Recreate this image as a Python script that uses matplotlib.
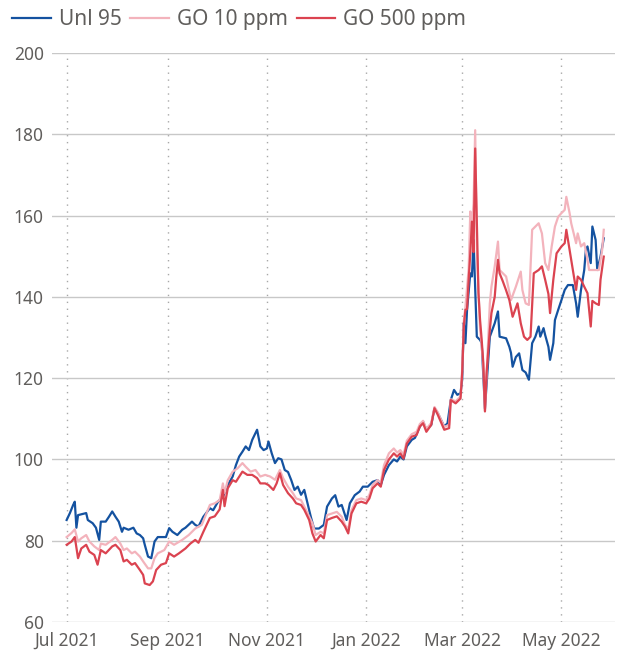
import matplotlib
matplotlib.use("Agg")
import matplotlib.pyplot as plt
import matplotlib.dates as mdates
import pandas as pd

plt.rcParams['font.family'] = ['Noto Sans', 'DejaVu Sans']

start = pd.Timestamp('2021-07-01')

# days after 1 Jul 2021
unl_days = [0, 2, 4, 5, 6, 7, 12, 13, 16, 18, 20, 21, 24, 26, 28, 30, 32, 34, 35, 38,
            41, 43, 45, 47, 48, 50, 52, 54, 56, 61, 63, 65, 68, 71, 73, 77, 79, 81, 84, 88,
            90, 93, 96, 99, 102, 104, 106, 108, 110, 112, 114, 117, 119, 121, 123, 124, 126, 128, 130, 132,
            134, 136, 138, 140, 142, 144, 146, 148, 150, 152, 155, 158, 160, 163, 165, 167, 169, 171, 172, 174,
            177, 180, 182, 185, 188, 191, 193, 195, 198, 201, 203, 205, 207, 209, 212, 214, 217, 219, 221, 224,
            226, 228, 232, 234, 236, 238, 240, 242, 243, 244, 245, 246, 248, 249, 250, 251, 252, 254, 255, 257,
            260, 263, 265, 266, 270, 272, 273, 274, 276, 278, 280, 282, 284, 286, 288, 290, 291, 293, 294, 296,
            297, 299, 300, 302, 304, 306, 308, 311, 313, 314, 316, 318, 319, 320, 322, 323, 325, 326, 328, 330]
unl_vals = [85.1, 86.8, 88.8, 89.6, 83.2, 86.3, 86.8, 85.1, 84.3, 83.2, 80.2, 84.7, 84.7, 85.9, 87.2, 85.9, 84.7, 82.2, 83.2, 82.7,
            83.2, 81.8, 81.4, 80.6, 79.0, 76.1, 75.7, 79.8, 80.9, 80.9, 83.1, 82.2, 81.4, 82.7, 83.2, 84.7, 83.9, 83.5, 85.9, 88.0,
            87.5, 89.6, 90.8, 93.7, 95.8, 98.6, 100.7, 101.9, 103.2, 102.3, 104.8, 107.3, 103.2, 102.3, 102.7, 104.4, 101.5, 99.1, 100.3, 100.0,
            97.4, 96.9, 94.9, 92.5, 93.3, 91.3, 92.5, 89.2, 85.9, 83.0, 83.0, 83.9, 88.4, 90.4, 91.2, 88.4, 88.8, 86.3, 85.1, 89.2,
            91.2, 92.1, 93.3, 93.3, 94.5, 94.9, 93.7, 96.2, 98.6, 100.0, 99.5, 100.7, 100.0, 103.2, 104.8, 105.3, 108.1, 109.3, 107.3, 108.5,
            112.6, 111.4, 108.1, 108.9, 114.6, 117.1, 115.9, 116.3, 119.6, 133.5, 128.6, 136.8, 145.8, 145.0, 154.0, 141.7, 130.2, 129.4, 128.6, 112.5,
            130.2, 133.5, 136.4, 130.2, 129.8, 127.7, 126.2, 122.8, 125.2, 126.1, 122.0, 121.4, 119.6, 128.6, 130.2, 132.7, 130.2, 132.3, 130.6, 127.7,
            124.5, 128.6, 134.3, 136.8, 139.2, 141.7, 142.9, 142.9, 138.4, 135.1, 141.7, 146.6, 151.5, 152.4, 148.3, 157.3, 154.0, 146.6, 149.9, 154.4]

go10_days = [0, 3, 5, 7, 9, 12, 14, 17, 20, 21, 24, 28, 30, 33, 35, 37, 40, 42, 45, 47,
             50, 52, 54, 56, 60, 63, 66, 71, 75, 79, 83, 88, 91, 94, 96, 97, 99, 102, 105, 108,
             110, 113, 116, 119, 122, 125, 128, 131, 133, 136, 139, 141, 144, 147, 151, 153, 156, 158, 160, 163,
             166, 169, 171, 173, 175, 178, 181, 184, 186, 188, 191, 193, 195, 198, 201, 203, 205, 207, 209, 212,
             215, 217, 219, 221, 224, 226, 228, 232, 235, 236, 239, 242, 243, 244, 245, 247, 248, 249, 250, 251,
             252, 253, 254, 255, 256, 257, 260, 261, 263, 265, 266, 270, 273, 276, 279, 280, 282, 284, 286, 288,
             290, 292, 294, 296, 298, 299, 300, 302, 304, 306, 307, 309, 310, 312, 313, 314, 316, 318, 320, 321,
             323, 325, 327, 329, 330]
go10_vals = [80.9, 81.9, 82.8, 79.8, 80.6, 81.4, 79.8, 78.6, 77.7, 79.3, 79.0, 80.2, 80.9, 79.3, 77.7, 78.1, 76.9, 77.3, 76.1, 74.9,
             73.2, 73.2, 75.7, 76.9, 77.7, 79.8, 79.0, 80.2, 81.4, 83.0, 83.9, 88.8, 89.2, 90.0, 94.1, 91.7, 94.9, 97.0, 97.8, 99.1,
             98.2, 97.0, 97.4, 95.8, 96.2, 95.8, 95.0, 97.4, 95.4, 93.3, 91.7, 90.4, 90.0, 87.6, 84.3, 81.4, 82.2, 81.8, 86.3, 86.7,
             87.1, 85.9, 83.9, 82.8, 87.5, 90.0, 90.4, 90.0, 91.3, 93.7, 94.9, 94.3, 98.6, 101.5, 102.7, 101.7, 102.3, 101.2, 104.6, 106.2,
             106.8, 108.7, 109.5, 107.5, 109.0, 112.9, 111.6, 108.0, 108.5, 114.8, 114.3, 115.5, 122.0, 134.0, 137.5, 147.0, 161.0, 158.0, 163.0, 181.0,
             152.0, 142.0, 132.0, 128.0, 122.8, 112.0, 138.4, 142.5, 147.5, 153.6, 146.6, 145.0, 139.2, 142.5, 146.2, 141.7, 138.4, 138.0, 156.5, 157.3,
             158.1, 155.6, 148.3, 146.6, 152.4, 154.8, 157.3, 159.7, 160.6, 161.4, 164.6, 160.6, 158.1, 154.8, 153.2, 155.6, 152.4, 153.2, 149.1, 146.6,
             146.6, 146.6, 146.6, 151.5, 156.5]

go500_days = [0, 3, 5, 7, 9, 12, 14, 17, 19, 21, 24, 28, 30, 33, 35, 37, 40, 42, 45, 47,
              48, 51, 53, 55, 58, 61, 63, 66, 69, 73, 76, 79, 81, 84, 88, 91, 94, 96, 97, 99,
              102, 104, 108, 111, 114, 117, 119, 122, 124, 127, 129, 131, 133, 136, 139, 141, 144, 146, 149, 151,
              153, 156, 158, 160, 163, 166, 169, 171, 173, 175, 178, 181, 184, 186, 188, 191, 193, 195, 198, 201,
              203, 205, 207, 209, 212, 215, 217, 219, 221, 224, 226, 228, 232, 235, 236, 239, 242, 243, 244, 245,
              246, 247, 248, 249, 250, 251, 252, 253, 254, 255, 256, 257, 258, 260, 261, 263, 264, 265, 266, 268,
              270, 272, 274, 277, 279, 281, 283, 285, 287, 290, 292, 294, 296, 297, 299, 301, 304, 306, 307, 309,
              310, 312, 313, 314, 316, 318, 320, 322, 323, 325, 327, 328, 330]
go500_vals = [79.0, 79.8, 80.9, 75.7, 78.1, 79.0, 77.3, 76.5, 74.1, 77.7, 76.9, 78.6, 79.0, 77.7, 74.9, 75.3, 74.1, 74.5, 72.8, 71.6,
              69.5, 69.1, 70.0, 72.8, 74.1, 74.5, 76.9, 76.1, 76.9, 78.1, 79.3, 80.2, 79.5, 82.2, 85.6, 86.0, 87.7, 92.5, 88.5, 92.9,
              94.9, 94.5, 97.0, 96.2, 96.2, 95.4, 94.1, 94.1, 93.7, 92.5, 94.1, 96.6, 93.7, 91.7, 90.4, 89.2, 88.8, 87.6, 85.1, 81.8,
              79.8, 81.4, 80.6, 85.1, 85.6, 86.0, 84.7, 83.5, 81.8, 86.7, 89.2, 89.6, 89.2, 90.4, 92.9, 94.1, 93.3, 97.4, 100.0, 101.5,
              100.7, 101.5, 100.2, 103.9, 105.6, 106.0, 108.1, 108.9, 106.8, 108.5, 112.6, 111.0, 107.3, 107.7, 114.6, 113.8, 115.0, 121.2, 132.7, 136.8,
              137.0, 144.2, 150.7, 158.5, 151.0, 176.5, 159.0, 141.0, 134.3, 129.4, 123.7, 111.8, 121.2, 131.9, 136.0, 140.0, 145.0, 149.1, 145.8, 143.8,
              141.6, 139.2, 135.1, 138.4, 133.5, 130.2, 129.4, 130.2, 145.8, 146.6, 147.5, 144.2, 140.7, 136.0, 144.2, 150.7, 152.4, 153.2, 156.5, 151.5,
              149.1, 144.2, 141.7, 145.0, 144.2, 142.5, 140.9, 132.7, 139.0, 138.4, 138.0, 144.2, 149.9]

series = [
    ('Unl 95', unl_days, unl_vals, '#1452a0'),
    ('GO 10 ppm', go10_days, go10_vals, '#f3b3bc'),
    ('GO 500 ppm', go500_days, go500_vals, '#db4350'),
]

y_ticks = [60, 80, 100, 120, 140, 160, 180, 200]
x_ticks = ['2021-07-01', '2021-09-01', '2021-11-01', '2022-01-01', '2022-03-01', '2022-05-01']

text_col = '#605e5c'

fig = plt.figure(figsize=(6.22, 6.62), dpi=100)
ax = fig.add_axes([0.0836, 0.0604, 0.9054, 0.8596])

for name, days, vals, col in series:
    dates = start + pd.to_timedelta(days, unit='D')
    ax.plot(dates, vals, color=col, lw=1.6, label=name, solid_joinstyle='round')

ax.set_ylim(60, 200)
ax.set_yticks(y_ticks)
ax.set_xlim(start - pd.Timedelta(days=9), start + pd.Timedelta(days=337))
ax.set_xticks(pd.to_datetime(x_ticks))
ax.xaxis.set_major_formatter(mdates.DateFormatter('%b %Y'))

# horizontal solid grid, vertical dotted grid
ax.grid(axis='y', color='#c8c8c8', lw=1.0, ls='-')
ax.grid(axis='x', color='#a8a8a8', lw=1.0, ls=(0, (1, 4)))
ax.set_axisbelow(True)
for s in ax.spines.values():
    s.set_visible(False)
ax.tick_params(length=0, labelsize=12.5, labelcolor=text_col)
ax.tick_params(axis='y', pad=6)
ax.tick_params(axis='x', pad=7)

fig.legend(loc='upper left', bbox_to_anchor=(0.008, 0.997), ncol=3, frameon=False,
           fontsize=15, labelcolor=text_col, handlelength=1.85, handletextpad=0.38,
           columnspacing=0.42, borderaxespad=0.2, borderpad=0.15)

fig.savefig('out.png', dpi=100)
